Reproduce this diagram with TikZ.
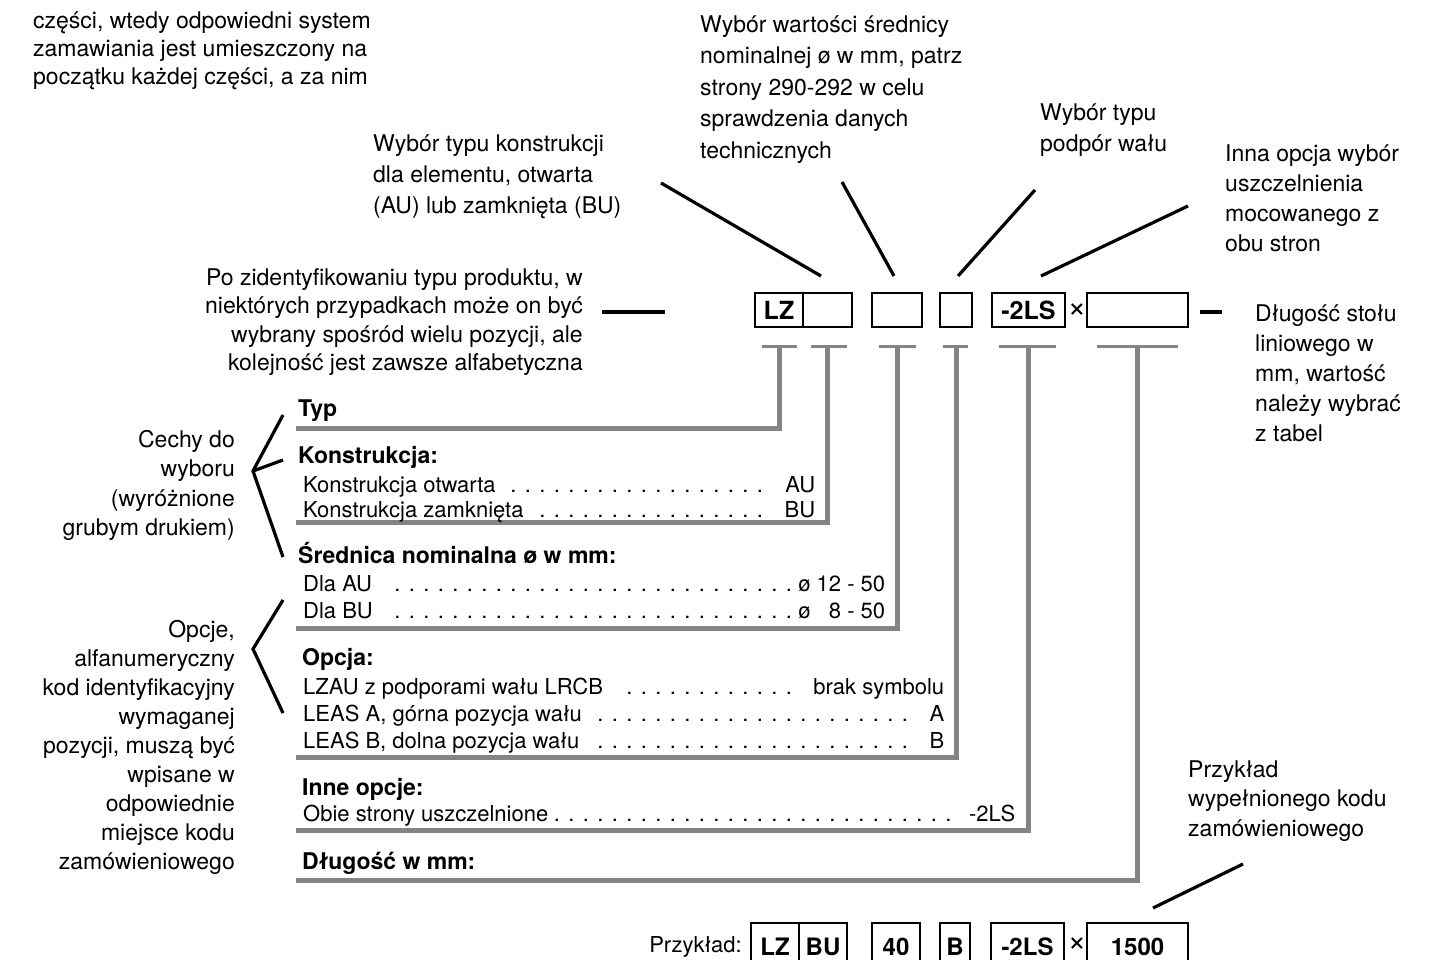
\documentclass[tikz,border=0pt]{standalone}
\usepackage{fontspec}
\setmainfont{TeX Gyre Heros}
\definecolor{grayc}{RGB}{132,132,132}
\newcommand\leadrow[3]{\hbox to #1{#2\leaders\hbox to 14.5pt{\hss.\hss}\hfill#3}}
\begin{document}
\begin{tikzpicture}[x=1pt,y=-1pt,
  ann/.style={inner sep=0pt, font=\fontsize{23}{29}\selectfont},
  lead/.style={line width=3.2pt, black},
  grl/.style={line width=5pt, draw=grayc, line join=miter},
  tbar/.style={line width=3pt, draw=grayc},
  timesmark/.style={inner sep=0pt, font=\fontsize{32}{32}\selectfont},
  codebox/.style={draw, line width=1.8pt, minimum height=34pt, inner sep=0pt, font=\bfseries\fontsize{25}{25}\selectfont},
  tbl/.style={inner sep=0pt, anchor=base west, font=\fontsize{22}{27}\selectfont},
  hd/.style={inner sep=0pt, anchor=base west, font=\bfseries\fontsize{23}{27}\selectfont}]
\useasboundingbox (0,0) rectangle (1430,959);
\fill[white] (0,0) rectangle (1430,959);

% ---------- annotations (anchor = baseline of last line) ----------
\node[ann, align=left, anchor=base west, font=\fontsize{23}{28}\selectfont] (tl) at (33,84)
  {części, wtedy odpowiedni system\\zamawiania jest umieszczony na\\początku każdej części, a za nim};
\node[ann, align=left, anchor=base west, font=\fontsize{23}{31.5}\selectfont] (sred) at (700,158)
  {Wybór wartości średnicy\\nominalnej ø w mm, patrz\\strony 290-292 w celu\\sprawdzenia danych\\technicznych};
\node[ann, align=left, anchor=base west, font=\fontsize{23}{31}\selectfont] (konstr) at (373,213)
  {Wybór typu konstrukcji\\dla elementu, otwarta\\(AU) lub zamknięta (BU)};
\node[ann, align=left, anchor=base west, font=\fontsize{23}{31}\selectfont] (podp) at (1040,151)
  {Wybór typu\\podpór wału};
\node[ann, align=left, anchor=base west, font=\fontsize{23}{30}\selectfont] (inna) at (1225,251)
  {Inna opcja wybór\\uszczelnienia\\mocowanego z\\obu stron};
\node[ann, align=right, anchor=base east, font=\fontsize{23}{28.5}\selectfont] (typ) at (583,370.5)
  {Po zidentyfikowaniu typu produktu, w\\niektórych przypadkach może on być\\wybrany spośród wielu pozycji, ale\\kolejność jest zawsze alfabetyczna};
\node[ann, align=left, anchor=base west, font=\fontsize{23}{30}\selectfont] (dlug) at (1255,441)
  {Długość stołu\\liniowego w\\mm, wartość\\należy wybrać\\z tabel};
\node[ann, align=right, anchor=base east, font=\fontsize{23}{29.5}\selectfont] (cechy) at (235,535.5)
  {Cechy do\\wyboru\\(wyróżnione\\grubym drukiem)};
\node[ann, align=right, anchor=base east] (opcje) at (235,869)
  {Opcje,\\alfanumeryczny\\kod identyfikacyjny\\wymaganej\\pozycji, muszą być\\wpisane w\\odpowiednie\\miejsce kodu\\zamówieniowego};
\node[ann, align=left, anchor=base west, font=\fontsize{23}{29.5}\selectfont] (przyk) at (1188,836)
  {Przykład\\wypełnionego kodu\\zamówieniowego};

% ---------- code boxes ----------
\node[codebox, minimum width=48pt] (bLZ) at (779,310) {LZ};
\node[codebox, minimum width=49pt] (bBU) at (827.5,310) {};
\node[codebox, minimum width=50pt] (bD) at (897,310) {};
\node[codebox, minimum width=32pt] (bO) at (956,310) {};
\node[codebox, minimum width=73pt] (bLS) at (1028.5,310) {-2LS};
\node[timesmark] (x1) at (1077,311) {×};
\node[codebox, minimum width=101pt] (bL) at (1137.5,310) {};

% side dashes
\coordinate (dl1) at (602,312); \coordinate (dl2) at (665,312);
\coordinate (dr1) at (1200,312); \coordinate (dr2) at (1222,312);
\draw[lead] (dl1) -- (dl2);
\draw[lead] (dr1) -- (dr2);

% leader lines from annotations to boxes
\coordinate (k1) at (661,183); \coordinate (k2) at (821,276);
\coordinate (s1) at (842,182); \coordinate (s2) at (894,276);
\coordinate (p1) at (1035,190); \coordinate (p2) at (958,276);
\coordinate (i1) at (1188,206); \coordinate (i2) at (1041,276);
\coordinate (e1) at (1243,864); \coordinate (e2) at (1153,908);
\draw[lead] (k1) -- (k2);
\draw[lead] (s1) -- (s2);
\draw[lead] (p1) -- (p2);
\draw[lead] (i1) -- (i2);
\draw[lead] (e1) -- (e2);

% brackets
\coordinate (b1t) at (253,471);
\coordinate (b1a) at (283,415); \coordinate (b1b) at (283,460); \coordinate (b1c) at (283,557);
\draw[lead, line join=miter] (b1a) -- (b1t) -- (b1c);
\draw[lead] (b1t) -- (b1b);
\coordinate (b2t) at (253,649);
\coordinate (b2a) at (283,600); \coordinate (b2c) at (283,713);
\draw[lead, line join=miter] (b2a) -- (b2t) -- (b2c);

% ---------- T markers and gray connectors ----------
\foreach \a/\b/\c/\ly [count=\i] in {762/797/779/428, 811/847/827.5/522, 879/916/897/628, 943/968/956/757, 999/1056/1028/830, 1097/1178/1137.5/880}{
  \draw[tbar] (\a,346) -- (\b,346);
  \draw[grl] (296,\ly) -- (\c,\ly) -- (\c,344.5);
}

% ---------- table ----------
\node[hd] (hTyp) at (298,416) {Typ};
\node[hd] (hK) at (298,463) {Konstrukcja:};
\node[tbl] (k1r) at (303,492) {\leadrow{512pt}{Konstrukcja otwarta\ }{\ AU}};
\node[tbl] (k2r) at (303,517) {\leadrow{512pt}{Konstrukcja zamknięta}{\ BU}};
\node[hd] (hS) at (298,563) {Średnica nominalna ø w mm:};
\node[tbl] (s1r) at (303,591) {\leadrow{582pt}{Dla AU\ }{ø 12 - 50}};
\node[tbl] (s2r) at (303,618) {\leadrow{582pt}{Dla BU\ }{ø \hphantom{1}8 - 50}};
\node[hd] (hO) at (302,665) {Opcja:};
\node[tbl] (o1r) at (303,694) {\leadrow{641pt}{LZAU z podporami wału LRCB\ }{\ \ brak symbolu}};
\node[tbl] (o2r) at (303,721) {\leadrow{641pt}{LEAS A, górna pozycja wału\ }{\ A}};
\node[tbl] (o3r) at (303,748) {\leadrow{641pt}{LEAS B, dolna pozycja wału\ }{\ B}};
\node[hd] (hI) at (302,795) {Inne opcje:};
\node[tbl] (i1r) at (303,821) {\leadrow{712pt}{Obie strony uszczelnione}{\ -2LS}};
\node[hd] (hD) at (302,869) {Długość w mm:};

% ---------- example ----------
\node[inner sep=0pt, anchor=base east, font=\fontsize{22}{22}\selectfont] (exl) at (742,952) {Przykład:};
\tikzset{exbox/.style={draw, line width=1.8pt, inner sep=0pt, minimum height=48pt, anchor=north, font=\bfseries\fontsize{24}{24}\selectfont, text depth=0pt}}
\node[exbox, minimum width=48pt] (eLZ) at (775,922) {LZ};
\node[exbox, minimum width=48pt] (eBU) at (823,922) {BU};
\node[exbox, minimum width=48pt] (e40) at (896,922) {40};
\node[exbox, minimum width=30pt] (eB) at (955,922) {B};
\node[exbox, minimum width=73pt] (eLS) at (1027.5,922) {-2LS};
\node[timesmark] (x2) at (1077,945) {×};
\node[exbox, minimum width=101pt] (e15) at (1137.5,922) {1500};
\end{tikzpicture}
\end{document}
